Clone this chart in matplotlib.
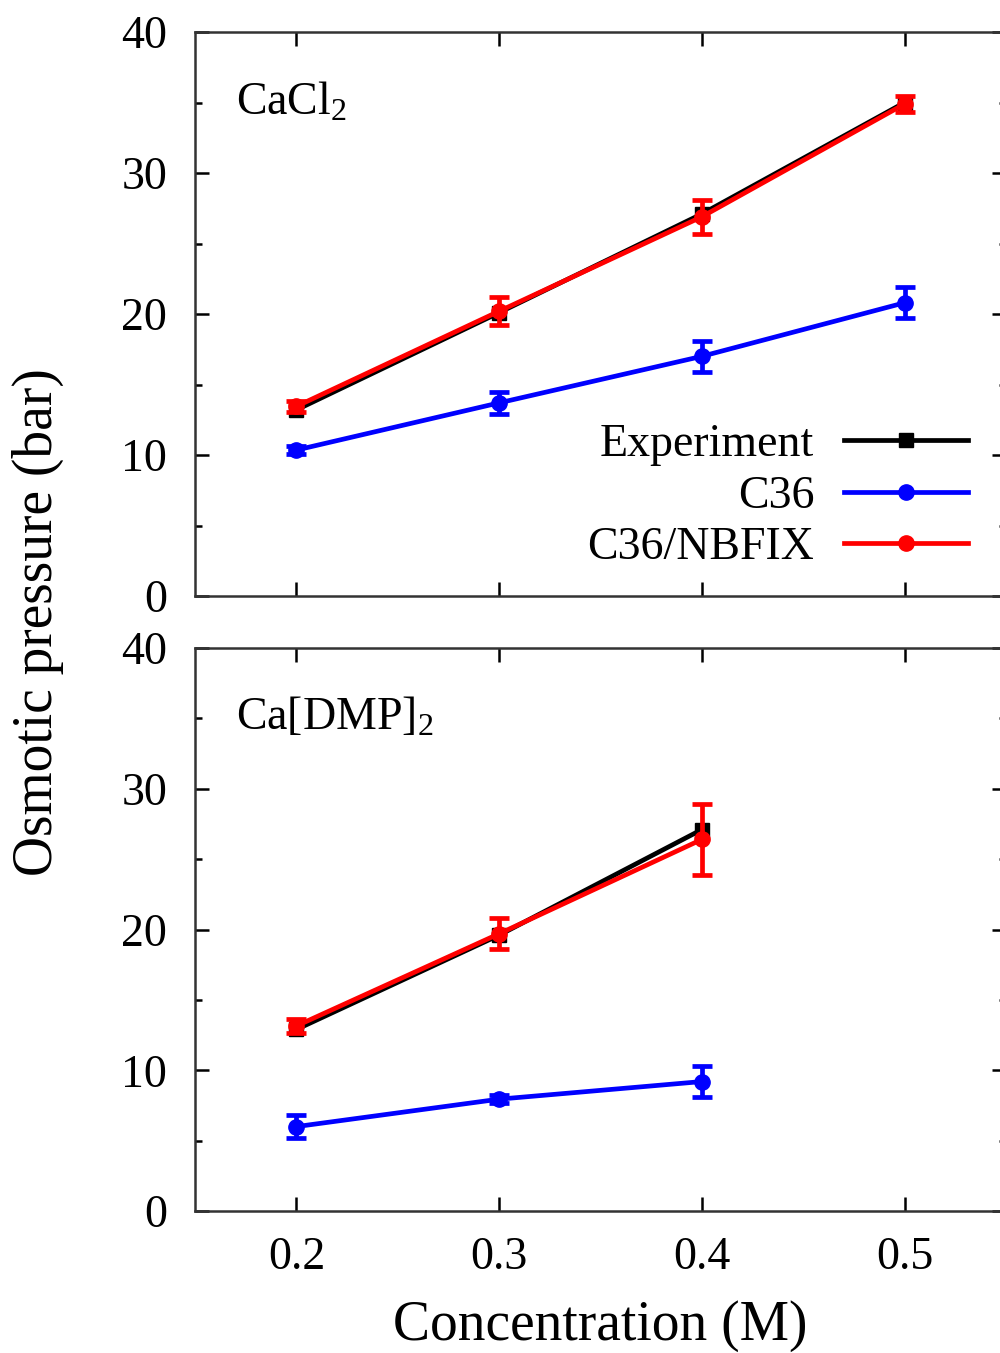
import matplotlib
matplotlib.use("Agg")
import matplotlib.pyplot as plt
from matplotlib.ticker import MultipleLocator

plt.rcParams['font.family'] = ['Liberation Serif', 'DejaVu Serif']
plt.rcParams['mathtext.fontset'] = 'custom'
plt.rcParams['mathtext.rm'] = 'Liberation Serif'
plt.rcParams['mathtext.it'] = 'Liberation Serif:italic'

# concentrations (M)
conc_cacl2 = [0.2, 0.3, 0.4, 0.5]
conc_dmp = [0.2, 0.3, 0.4]

# CaCl2 panel (bar)
exp_cacl2 = [13.2, 20.1, 27.1, 35.0]
c36_cacl2 = [10.35, 13.7, 17.0, 20.8]
c36_cacl2_err = [0.3, 0.8, 1.1, 1.1]
nbfix_cacl2 = [13.45, 20.2, 26.9, 34.9]
nbfix_cacl2_err = [0.4, 1.0, 1.2, 0.6]

# Ca[DMP]2 panel (bar)
exp_dmp = [12.9, 19.6, 27.1]
c36_dmp = [6.0, 7.95, 9.2]
c36_dmp_err = [0.8, 0.3, 1.1]
nbfix_dmp = [13.15, 19.7, 26.4]
nbfix_dmp_err = [0.5, 1.1, 2.5]

labels = ['Experiment', 'C36', 'C36/NBFIX']
colors = ['black', '#0000ff', '#ff0000']

fig = plt.figure(figsize=(10, 13.53), dpi=100)
ax1 = fig.add_axes([0.195, 0.5595, 0.811, 0.4168])
ax2 = fig.add_axes([0.195, 0.1049, 0.811, 0.4162])

lw = 3.4
fs = 33


def draw_panel(ax, x, exp, c36, c36_err, nbfix, nbfix_err):
    ax.plot(x, exp, color=colors[0], lw=lw, marker='s', ms=10, label=labels[0], zorder=2)
    ax.plot(x, c36, color=colors[1], lw=lw, marker='o', ms=11, label=labels[1], zorder=3)
    ax.errorbar(x, c36, yerr=c36_err, fmt='none', ecolor=colors[1], elinewidth=lw,
                capsize=7.5, capthick=lw, zorder=3)
    ax.plot(x, nbfix, color=colors[2], lw=lw, marker='o', ms=11, label=labels[2], zorder=4)
    ax.errorbar(x, nbfix, yerr=nbfix_err, fmt='none', ecolor=colors[2], elinewidth=lw,
                capsize=7.5, capthick=lw, zorder=4)
    ax.set_xlim(0.15, 0.55)
    ax.set_ylim(0, 40)
    ax.xaxis.set_major_locator(MultipleLocator(0.1))
    ax.yaxis.set_major_locator(MultipleLocator(10))
    ax.yaxis.set_minor_locator(MultipleLocator(5))
    ax.tick_params(which='both', direction='in', top=True, right=True, width=1.8,
                   labelsize=fs)
    ax.tick_params(axis='y', pad=20)
    ax.tick_params(axis='x', pad=18)
    ax.tick_params(which='major', length=10)
    ax.tick_params(which='minor', length=5)
    for s in ax.spines.values():
        s.set_linewidth(1.8)
        s.set_color('#333333')


draw_panel(ax1, conc_cacl2, exp_cacl2, c36_cacl2, c36_cacl2_err, nbfix_cacl2, nbfix_cacl2_err)
draw_panel(ax2, conc_dmp, exp_dmp, c36_dmp, c36_dmp_err, nbfix_dmp, nbfix_dmp_err)
ax1.tick_params(labelbottom=False)
ax2.set_xticks([0.2, 0.3, 0.4, 0.5])
ax2.set_xticklabels(['0.2', '0.3', '0.4', '0.5'])

ax1.text(0.05, 0.875, r'CaCl$_2$', transform=ax1.transAxes, fontsize=fs, va='center')
ax2.text(0.05, 0.875, r'Ca[DMP]$_2$', transform=ax2.transAxes, fontsize=fs, va='center')

ax1.legend(loc='lower right', bbox_to_anchor=(0.953, 0.047), frameon=False,
           markerfirst=False, fontsize=fs, handlelength=2.7, handletextpad=0.65,
           labelspacing=0.2, borderpad=0, borderaxespad=0)

fig.text(0.038, 0.54, 'Osmotic pressure (bar)', rotation=90, fontsize=40,
         ha='center', va='center')
fig.text(0.6, 0.02, 'Concentration (M)', fontsize=40, ha='center', va='center')

fig.savefig('out.png', dpi=100)
